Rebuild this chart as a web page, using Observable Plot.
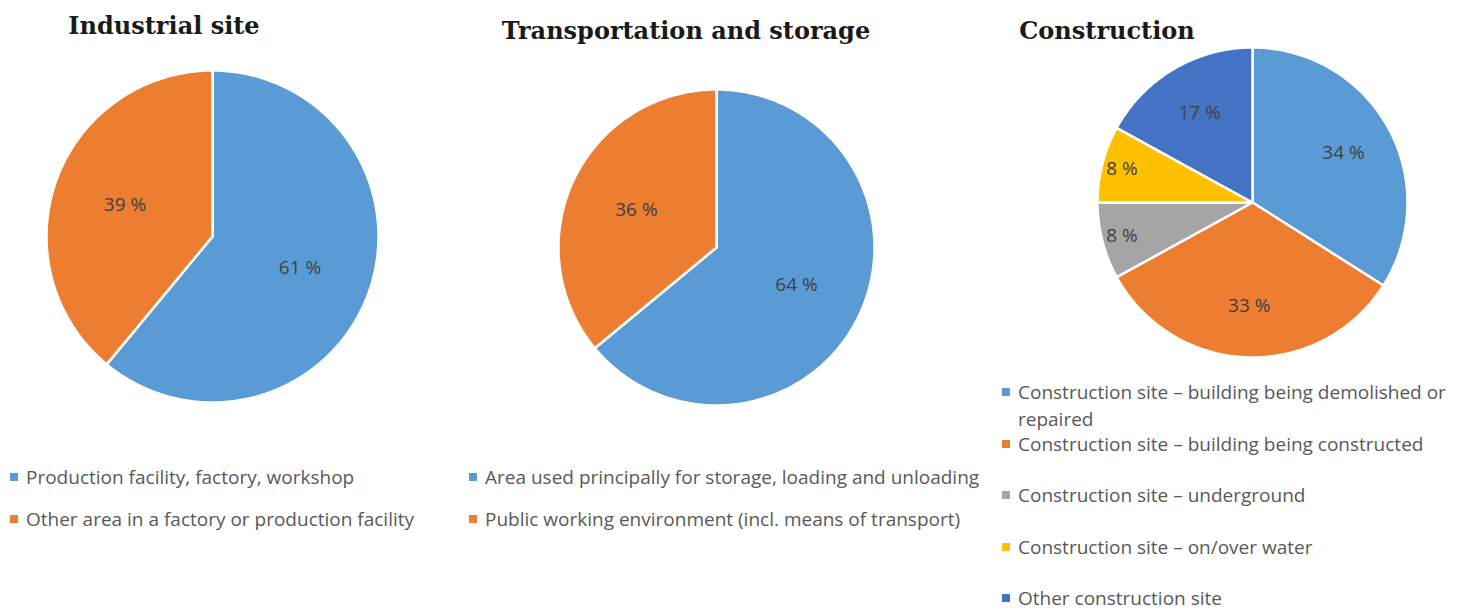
<!DOCTYPE html>
<html><head><meta charset="utf-8">
<script src="https://cdn.jsdelivr.net/npm/d3@7"></script>
<script src="https://cdn.jsdelivr.net/npm/@observablehq/plot@0.6"></script>
<style>
body{margin:0;background:#fff;}
#root{position:relative;width:1459px;height:612px;overflow:hidden;font-family:"Open Sans",sans-serif;}
.title{position:absolute;font-family:"DejaVu Serif",serif;font-weight:bold;font-size:24px;color:#1a1a1a;white-space:nowrap;transform:translate(-50%,-50%);}
.pie{position:absolute;}
.leg{position:absolute;font-size:19px;color:#595959;line-height:27px;}
.leg .sw{position:absolute;left:-16px;top:9px;width:8px;height:8px;}
</style></head><body><div id="root"></div>
<script>
// ---- data ----
const titles = ["Industrial site", "Transportation and storage", "Construction"];

const industrialCategories = ["Production facility, factory, workshop", "Other area in a factory or production facility"];
const industrialValues = [61, 39];

const transportCategories = ["Area used principally for storage, loading and unloading", "Public working environment (incl. means of transport)"];
const transportValues = [64, 36];

const constructionCategories = [
  "Construction site – building being demolished or repaired",
  "Construction site – building being constructed",
  "Construction site – underground",
  "Construction site – on/over water",
  "Other construction site"
];
const constructionValues = [34, 33, 8, 8, 17];

const palette = ["#5B9BD5", "#ED7D31", "#A5A5A5", "#FFC000", "#4472C4"];

// ---- layout ----
const panels = [
  {cats: industrialCategories, vals: industrialValues, title: titles[0], cx: 212, cy: 236, r: 166, tx: 164, ty: 25, lx: 26, ly: 464, step: 42, lw: 430},
  {cats: transportCategories, vals: transportValues, title: titles[1], cx: 716, cy: 247, r: 158, tx: 686, ty: 30, lx: 485, ly: 464, step: 42, lw: 560},
  {cats: constructionCategories, vals: constructionValues, title: titles[2], cx: 1252, cy: 202, r: 155, tx: 1107, ty: 30, lx: 1018, ly: 379, step: 51.5, lw: 438}
];

const root = document.getElementById("root");

function pie(cats, vals, r) {
  const total = d3.sum(vals);
  let acc = 0;
  const pts = [], labels = [];
  cats.forEach((c, i) => {
    const a0 = acc / total * 2 * Math.PI; acc += vals[i]; const a1 = acc / total * 2 * Math.PI;
    pts.push({c, x: 0, y: 0});
    const n = Math.max(2, Math.ceil((a1 - a0) / (Math.PI / 180)));
    for (let k = 0; k <= n; k++) { const a = a0 + (a1 - a0) * k / n; pts.push({c, x: Math.sin(a), y: Math.cos(a)}); }
    pts.push({c, x: 0, y: 0});
    const am = (a0 + a1) / 2, share = vals[i] / total;
    const lr = share < 0.1 ? 0.87 : (cats.length > 2 ? 0.67 : 0.56);
    labels.push({c, x: lr * Math.sin(am), y: lr * Math.cos(am), t: vals[i] + " %"});
  });
  const pad = 4, size = 2 * r + 2 * pad;
  return Plot.plot({
    width: size, height: size, margin: pad,
    x: {domain: [-1, 1], axis: null}, y: {domain: [-1, 1], axis: null},
    color: {domain: cats, range: palette.slice(0, cats.length)},
    style: {background: "transparent", overflow: "visible"},
    marks: [
      Plot.line(pts, {x: "x", y: "y", z: "c", fill: "c", stroke: "white", strokeWidth: 2.5, curve: "linear"}),
      Plot.text(labels, {x: "x", y: "y", text: "t", fill: "#404040", fontSize: 19, fontFamily: "Open Sans"})
    ]
  });
}

panels.forEach(p => {
  const svg = pie(p.cats, p.vals, p.r);
  const wrap = document.createElement("div");
  wrap.className = "pie";
  wrap.style.left = (p.cx - p.r - 4) + "px";
  wrap.style.top = (p.cy - p.r - 4) + "px";
  wrap.appendChild(svg);
  root.appendChild(wrap);

  const t = document.createElement("div");
  t.className = "title";
  t.textContent = p.title;
  t.style.left = p.tx + "px"; t.style.top = p.ty + "px";
  root.appendChild(t);

  p.cats.forEach((c, i) => {
    const d = document.createElement("div");
    d.className = "leg";
    d.style.left = p.lx + "px";
    d.style.top = (p.ly + i * p.step) + "px";
    d.style.width = p.lw + "px";
    const sw = document.createElement("span");
    sw.className = "sw"; sw.style.background = palette[i];
    d.appendChild(sw);
    d.appendChild(document.createTextNode(c));
    root.appendChild(d);
  });
});
</script></body></html>
